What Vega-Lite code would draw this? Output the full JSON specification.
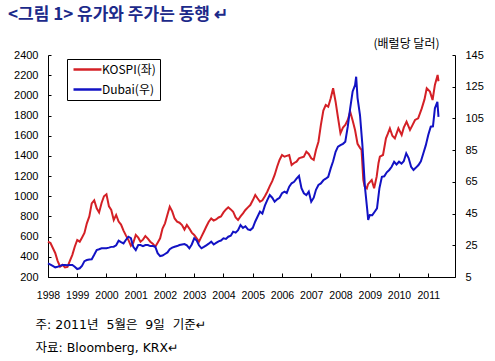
{
  "$schema": "https://vega.github.io/schema/vega-lite/v6.json",
  "autosize": "none",
  "width": 407,
  "height": 222,
  "padding": {"left": 48, "top": 55, "right": 40, "bottom": 84},
  "background": "white",
  "title": {
    "text": "<그림 1> 유가와 주가는 동행 ↵",
    "anchor": "start",
    "frame": "group",
    "dx": -40,
    "offset": 13,
    "font": "Noto Sans CJK KR",
    "fontSize": 17,
    "fontWeight": "bold",
    "color": "#1c2a8a"
  },
  "datasets": {
    "kospi": [
      {"date": "1998-01-01", "v": 550}, {"date": "1998-02-01", "v": 537}, {"date": "1998-03-01", "v": 490}, {"date": "1998-04-01", "v": 438},
      {"date": "1998-05-01", "v": 360}, {"date": "1998-06-01", "v": 302}, {"date": "1998-07-01", "v": 320}, {"date": "1998-08-01", "v": 295},
      {"date": "1998-09-01", "v": 300}, {"date": "1998-10-01", "v": 360}, {"date": "1998-11-01", "v": 420}, {"date": "1998-12-01", "v": 500},
      {"date": "1999-01-01", "v": 567}, {"date": "1999-02-01", "v": 550}, {"date": "1999-03-01", "v": 590}, {"date": "1999-04-01", "v": 636},
      {"date": "1999-05-01", "v": 732}, {"date": "1999-06-01", "v": 800}, {"date": "1999-07-01", "v": 930}, {"date": "1999-08-01", "v": 960},
      {"date": "1999-09-01", "v": 880}, {"date": "1999-10-01", "v": 840}, {"date": "1999-11-01", "v": 933}, {"date": "1999-12-01", "v": 1000},
      {"date": "2000-01-01", "v": 1020}, {"date": "2000-02-01", "v": 900}, {"date": "2000-03-01", "v": 864}, {"date": "2000-04-01", "v": 765},
      {"date": "2000-05-01", "v": 815}, {"date": "2000-06-01", "v": 750}, {"date": "2000-07-01", "v": 720}, {"date": "2000-08-01", "v": 660},
      {"date": "2000-09-01", "v": 610}, {"date": "2000-10-01", "v": 567}, {"date": "2000-11-01", "v": 510}, {"date": "2000-12-01", "v": 540},
      {"date": "2001-01-01", "v": 616}, {"date": "2001-02-01", "v": 590}, {"date": "2001-03-01", "v": 550}, {"date": "2001-04-01", "v": 570},
      {"date": "2001-05-01", "v": 606}, {"date": "2001-06-01", "v": 580}, {"date": "2001-07-01", "v": 550}, {"date": "2001-08-01", "v": 530},
      {"date": "2001-09-01", "v": 500}, {"date": "2001-10-01", "v": 540}, {"date": "2001-11-01", "v": 583}, {"date": "2001-12-01", "v": 680},
      {"date": "2002-01-01", "v": 732}, {"date": "2002-02-01", "v": 820}, {"date": "2002-03-01", "v": 897}, {"date": "2002-04-01", "v": 850},
      {"date": "2002-05-01", "v": 780}, {"date": "2002-06-01", "v": 748}, {"date": "2002-07-01", "v": 738}, {"date": "2002-08-01", "v": 715},
      {"date": "2002-09-01", "v": 670}, {"date": "2002-10-01", "v": 715}, {"date": "2002-11-01", "v": 680}, {"date": "2002-12-01", "v": 640},
      {"date": "2003-01-01", "v": 616}, {"date": "2003-02-01", "v": 583}, {"date": "2003-03-01", "v": 550}, {"date": "2003-04-01", "v": 600},
      {"date": "2003-05-01", "v": 649}, {"date": "2003-06-01", "v": 700}, {"date": "2003-07-01", "v": 748}, {"date": "2003-08-01", "v": 781},
      {"date": "2003-09-01", "v": 760}, {"date": "2003-10-01", "v": 770}, {"date": "2003-11-01", "v": 790}, {"date": "2003-12-01", "v": 800},
      {"date": "2004-01-01", "v": 840}, {"date": "2004-02-01", "v": 870}, {"date": "2004-03-01", "v": 891}, {"date": "2004-04-01", "v": 870},
      {"date": "2004-05-01", "v": 847}, {"date": "2004-06-01", "v": 790}, {"date": "2004-07-01", "v": 765}, {"date": "2004-08-01", "v": 800},
      {"date": "2004-09-01", "v": 830}, {"date": "2004-10-01", "v": 864}, {"date": "2004-11-01", "v": 890}, {"date": "2004-12-01", "v": 913},
      {"date": "2005-01-01", "v": 960}, {"date": "2005-02-01", "v": 1013}, {"date": "2005-03-01", "v": 980}, {"date": "2005-04-01", "v": 946},
      {"date": "2005-05-01", "v": 960}, {"date": "2005-06-01", "v": 1000}, {"date": "2005-07-01", "v": 1045}, {"date": "2005-08-01", "v": 1100},
      {"date": "2005-09-01", "v": 1150}, {"date": "2005-10-01", "v": 1211}, {"date": "2005-11-01", "v": 1293}, {"date": "2005-12-01", "v": 1360},
      {"date": "2006-01-01", "v": 1409}, {"date": "2006-02-01", "v": 1392}, {"date": "2006-03-01", "v": 1400}, {"date": "2006-04-01", "v": 1409},
      {"date": "2006-05-01", "v": 1310}, {"date": "2006-06-01", "v": 1330}, {"date": "2006-07-01", "v": 1343}, {"date": "2006-08-01", "v": 1376},
      {"date": "2006-09-01", "v": 1385}, {"date": "2006-10-01", "v": 1392}, {"date": "2006-11-01", "v": 1442}, {"date": "2006-12-01", "v": 1420},
      {"date": "2007-01-01", "v": 1376}, {"date": "2007-02-01", "v": 1360}, {"date": "2007-03-01", "v": 1459}, {"date": "2007-04-01", "v": 1541},
      {"date": "2007-05-01", "v": 1706}, {"date": "2007-06-01", "v": 1850}, {"date": "2007-07-01", "v": 1904}, {"date": "2007-08-01", "v": 1888},
      {"date": "2007-09-01", "v": 1971}, {"date": "2007-10-01", "v": 2070}, {"date": "2007-11-01", "v": 1937}, {"date": "2007-12-01", "v": 1780},
      {"date": "2008-01-01", "v": 1624}, {"date": "2008-02-01", "v": 1680}, {"date": "2008-03-01", "v": 1706}, {"date": "2008-04-01", "v": 1756},
      {"date": "2008-05-01", "v": 1838}, {"date": "2008-06-01", "v": 1750}, {"date": "2008-07-01", "v": 1657}, {"date": "2008-08-01", "v": 1520},
      {"date": "2008-09-01", "v": 1480}, {"date": "2008-09-20", "v": 1459}, {"date": "2008-10-12", "v": 1162}, {"date": "2008-10-28", "v": 1100},
      {"date": "2008-11-25", "v": 1079}, {"date": "2008-12-10", "v": 1120},
      {"date": "2009-01-25", "v": 1162}, {"date": "2009-02-24", "v": 1079}, {"date": "2009-03-28", "v": 1194}, {"date": "2009-04-20", "v": 1330},
      {"date": "2009-05-07", "v": 1392}, {"date": "2009-06-15", "v": 1409}, {"date": "2009-07-22", "v": 1574}, {"date": "2009-08-15", "v": 1620},
      {"date": "2009-09-09", "v": 1673}, {"date": "2009-10-10", "v": 1600}, {"date": "2009-11-10", "v": 1574}, {"date": "2009-12-24", "v": 1673},
      {"date": "2010-02-03", "v": 1607}, {"date": "2010-03-01", "v": 1680}, {"date": "2010-04-05", "v": 1739}, {"date": "2010-05-18", "v": 1657},
      {"date": "2010-06-15", "v": 1700}, {"date": "2010-07-20", "v": 1756}, {"date": "2010-08-28", "v": 1773}, {"date": "2010-10-12", "v": 1871},
      {"date": "2010-11-15", "v": 1960}, {"date": "2010-12-13", "v": 2070},
      {"date": "2011-01-22", "v": 2037}, {"date": "2011-02-24", "v": 1954}, {"date": "2011-03-25", "v": 2103}, {"date": "2011-04-28", "v": 2202},
      {"date": "2011-05-09", "v": 2140}
    ],
    "dubai": [
      {"date": "1998-01-01", "v": 13.6}, {"date": "1998-02-01", "v": 12.8}, {"date": "1998-03-01", "v": 12.0}, {"date": "1998-04-01", "v": 11.1},
      {"date": "1998-05-01", "v": 11.5}, {"date": "1998-06-01", "v": 12.0}, {"date": "1998-07-01", "v": 12.6}, {"date": "1998-08-01", "v": 12.6},
      {"date": "1998-09-01", "v": 12.4}, {"date": "1998-10-01", "v": 12.6}, {"date": "1998-11-01", "v": 12.6}, {"date": "1998-12-01", "v": 11.5},
      {"date": "1999-01-01", "v": 10.0}, {"date": "1999-02-01", "v": 10.5}, {"date": "1999-03-01", "v": 12.0}, {"date": "1999-04-01", "v": 15.0},
      {"date": "1999-05-01", "v": 15.7}, {"date": "1999-06-01", "v": 16.0}, {"date": "1999-07-01", "v": 16.2}, {"date": "1999-08-01", "v": 19.0},
      {"date": "1999-09-01", "v": 22.0}, {"date": "1999-10-01", "v": 22.5}, {"date": "1999-11-01", "v": 23.1}, {"date": "1999-12-01", "v": 23.1},
      {"date": "2000-01-01", "v": 23.1}, {"date": "2000-02-01", "v": 23.5}, {"date": "2000-03-01", "v": 24.0}, {"date": "2000-04-01", "v": 24.1},
      {"date": "2000-05-01", "v": 25.0}, {"date": "2000-06-01", "v": 27.9}, {"date": "2000-07-01", "v": 27.0}, {"date": "2000-08-01", "v": 26.2},
      {"date": "2000-09-01", "v": 28.5}, {"date": "2000-10-01", "v": 30.4}, {"date": "2000-11-01", "v": 29.5}, {"date": "2000-12-01", "v": 24.0},
      {"date": "2001-01-01", "v": 22.0}, {"date": "2001-02-01", "v": 25.2}, {"date": "2001-03-01", "v": 25.2}, {"date": "2001-04-01", "v": 24.5},
      {"date": "2001-05-01", "v": 25.2}, {"date": "2001-06-01", "v": 25.2}, {"date": "2001-07-01", "v": 24.5}, {"date": "2001-08-01", "v": 24.5},
      {"date": "2001-09-01", "v": 24.1}, {"date": "2001-10-01", "v": 20.0}, {"date": "2001-11-01", "v": 18.2}, {"date": "2001-12-01", "v": 18.5},
      {"date": "2002-01-01", "v": 19.5}, {"date": "2002-02-01", "v": 20.5}, {"date": "2002-03-01", "v": 22.5}, {"date": "2002-04-01", "v": 23.5},
      {"date": "2002-05-01", "v": 24.1}, {"date": "2002-06-01", "v": 24.5}, {"date": "2002-07-01", "v": 25.2}, {"date": "2002-08-01", "v": 25.5},
      {"date": "2002-09-01", "v": 25.8}, {"date": "2002-10-01", "v": 25.0}, {"date": "2002-11-01", "v": 23.1}, {"date": "2002-12-01", "v": 25.5},
      {"date": "2003-01-01", "v": 29.4}, {"date": "2003-02-01", "v": 28.0}, {"date": "2003-03-01", "v": 25.0}, {"date": "2003-04-01", "v": 23.1},
      {"date": "2003-05-01", "v": 24.0}, {"date": "2003-06-01", "v": 25.0}, {"date": "2003-07-01", "v": 26.0}, {"date": "2003-08-01", "v": 27.3},
      {"date": "2003-09-01", "v": 25.5}, {"date": "2003-10-01", "v": 26.5}, {"date": "2003-11-01", "v": 27.5}, {"date": "2003-12-01", "v": 28.0},
      {"date": "2004-01-01", "v": 29.4}, {"date": "2004-02-01", "v": 29.0}, {"date": "2004-03-01", "v": 30.4}, {"date": "2004-04-01", "v": 31.0},
      {"date": "2004-05-01", "v": 33.6}, {"date": "2004-06-01", "v": 33.0}, {"date": "2004-07-01", "v": 34.5}, {"date": "2004-08-01", "v": 37.8},
      {"date": "2004-09-01", "v": 36.0}, {"date": "2004-10-01", "v": 37.0}, {"date": "2004-11-01", "v": 35.0}, {"date": "2004-12-01", "v": 34.6},
      {"date": "2005-01-01", "v": 36.0}, {"date": "2005-02-01", "v": 40.0}, {"date": "2005-03-01", "v": 43.0}, {"date": "2005-04-01", "v": 46.2},
      {"date": "2005-05-01", "v": 45.0}, {"date": "2005-06-01", "v": 50.0}, {"date": "2005-07-01", "v": 53.5}, {"date": "2005-08-01", "v": 56.7},
      {"date": "2005-09-01", "v": 55.0}, {"date": "2005-10-01", "v": 52.5}, {"date": "2005-11-01", "v": 54.0}, {"date": "2005-12-01", "v": 55.0},
      {"date": "2006-01-01", "v": 57.8}, {"date": "2006-02-01", "v": 58.8}, {"date": "2006-03-01", "v": 58.0}, {"date": "2006-04-01", "v": 62.0},
      {"date": "2006-05-01", "v": 64.1}, {"date": "2006-06-01", "v": 65.0}, {"date": "2006-07-01", "v": 67.0}, {"date": "2006-08-01", "v": 68.7},
      {"date": "2006-09-01", "v": 61.0}, {"date": "2006-10-01", "v": 57.8}, {"date": "2006-11-01", "v": 56.7}, {"date": "2006-12-01", "v": 58.8},
      {"date": "2007-01-01", "v": 52.5}, {"date": "2007-02-01", "v": 55.0}, {"date": "2007-03-01", "v": 60.0}, {"date": "2007-04-01", "v": 63.0},
      {"date": "2007-05-01", "v": 64.0}, {"date": "2007-06-01", "v": 66.0}, {"date": "2007-07-01", "v": 67.0}, {"date": "2007-08-01", "v": 68.2},
      {"date": "2007-09-01", "v": 73.5}, {"date": "2007-10-01", "v": 78.0}, {"date": "2007-11-01", "v": 84.0}, {"date": "2007-12-01", "v": 87.2},
      {"date": "2008-01-01", "v": 88.2}, {"date": "2008-02-01", "v": 89.0}, {"date": "2008-03-01", "v": 90.3}, {"date": "2008-04-01", "v": 99.8},
      {"date": "2008-05-01", "v": 111.4}, {"date": "2008-06-01", "v": 122.0}, {"date": "2008-07-01", "v": 126.0}, {"date": "2008-07-15", "v": 131.3},
      {"date": "2008-08-01", "v": 118.0}, {"date": "2008-09-01", "v": 107.0}, {"date": "2008-10-01", "v": 88.0}, {"date": "2008-11-01", "v": 62.0},
      {"date": "2008-12-01", "v": 47.0}, {"date": "2008-12-12", "v": 41.0},
      {"date": "2009-01-01", "v": 44.1}, {"date": "2009-02-01", "v": 44.0}, {"date": "2009-03-01", "v": 46.0}, {"date": "2009-04-01", "v": 48.3},
      {"date": "2009-05-01", "v": 60.9}, {"date": "2009-06-01", "v": 68.2}, {"date": "2009-07-01", "v": 68.5}, {"date": "2009-08-01", "v": 71.0},
      {"date": "2009-09-01", "v": 72.5}, {"date": "2009-10-01", "v": 74.5}, {"date": "2009-11-01", "v": 77.7}, {"date": "2009-12-01", "v": 76.0},
      {"date": "2010-01-01", "v": 77.7}, {"date": "2010-02-01", "v": 76.5}, {"date": "2010-03-01", "v": 78.0}, {"date": "2010-04-01", "v": 83.0},
      {"date": "2010-05-01", "v": 80.0}, {"date": "2010-06-01", "v": 74.5}, {"date": "2010-07-01", "v": 72.5}, {"date": "2010-08-01", "v": 74.0},
      {"date": "2010-09-01", "v": 75.6}, {"date": "2010-10-01", "v": 78.0}, {"date": "2010-11-01", "v": 83.0}, {"date": "2010-12-01", "v": 88.0},
      {"date": "2011-01-01", "v": 94.5}, {"date": "2011-02-01", "v": 99.8}, {"date": "2011-03-01", "v": 100.0}, {"date": "2011-03-25", "v": 111.4},
      {"date": "2011-04-25", "v": 115.5}, {"date": "2011-05-09", "v": 106.0}
    ]
  },
  "encoding": {
    "x": {
      "field": "date", "type": "temporal",
      "scale": {"type": "utc", "domain": [{"year": 1998, "month": 1, "date": 1, "utc": true}, {"year": 2011, "month": 12, "date": 1, "utc": true}]},
      "axis": {
        "values": [
          {"year": 1998, "month": 1, "date": 1, "utc": true}, {"year": 1999, "month": 1, "date": 1, "utc": true},
          {"year": 2000, "month": 1, "date": 1, "utc": true}, {"year": 2001, "month": 1, "date": 1, "utc": true},
          {"year": 2002, "month": 1, "date": 1, "utc": true}, {"year": 2003, "month": 1, "date": 1, "utc": true},
          {"year": 2004, "month": 1, "date": 1, "utc": true}, {"year": 2005, "month": 1, "date": 1, "utc": true},
          {"year": 2006, "month": 1, "date": 1, "utc": true}, {"year": 2007, "month": 1, "date": 1, "utc": true},
          {"year": 2008, "month": 1, "date": 1, "utc": true}, {"year": 2009, "month": 1, "date": 1, "utc": true},
          {"year": 2010, "month": 1, "date": 1, "utc": true}, {"year": 2011, "month": 1, "date": 1, "utc": true}
        ],
        "format": "%Y",
        "grid": false,
        "tickSize": -4,
        "labelPadding": 17,
        "labelFont": "Liberation Sans",
        "labelFontSize": 10.5,
        "labelColor": "black",
        "labelFlush": false,
        "labelOverlap": false,
        "labelSeparation": 0,
        "labelBound": false,
        "domainColor": "black",
        "tickColor": "black",
        "title": ["주: 2011년 \u00a05월은 \u00a09일 \u00a0기준↵", "자료: Bloomberg, KRX↵"],
        "titleX": -13,
        "titleY": 41,
        "titleAlign": "left",
        "titleBaseline": "top",
        "titleFont": "DejaVu Sans, Noto Sans CJK KR",
        "titleFontSize": 12.5,
        "titleFontWeight": "normal",
        "titleColor": "black",
        "titleLineHeight": 23
      }
    }
  },
  "layer": [
    {
      "data": {"name": "kospi"},
      "mark": {"type": "line", "strokeWidth": 2},
      "encoding": {
        "y": {
          "field": "v", "type": "quantitative",
          "scale": {"domain": [200, 2400], "nice": false, "zero": false},
          "axis": {
            "values": [200, 400, 600, 800, 1000, 1200, 1400, 1600, 1800, 2000, 2200, 2400],
            "format": "d",
            "grid": false,
            "tickSize": -3,
            "labelPadding": 13,
            "labelFont": "Liberation Sans",
            "labelFontSize": 11,
            "labelColor": "black",
            "labelFlush": false,
            "labelOverlap": false,
            "domainColor": "black",
            "tickColor": "black",
            "title": null
          }
        },
        "color": {
          "datum": "KOSPI(좌)", "type": "nominal",
          "scale": {"domain": ["KOSPI(좌)", "Dubai(우)"], "range": ["#d42026", "#1212c4"]},
          "legend": {
            "title": null,
            "orient": "none",
            "legendX": 19,
            "legendY": 4,
            "strokeColor": "black",
            "fillColor": "white",
            "padding": 4,
            "symbolType": "M-2.8,0L2.8,0",
            "symbolSize": 100,
            "symbolOffset": 10,
            "symbolStrokeWidth": 2.5,
            "labelFont": "Noto Sans CJK KR",
            "labelFontSize": 12,
            "labelColor": "black",
            "labelOffset": 8,
            "rowPadding": 7
          }
        }
      }
    },
    {
      "data": {"name": "dubai"},
      "mark": {"type": "line", "strokeWidth": 2},
      "encoding": {
        "y": {
          "field": "v", "type": "quantitative",
          "scale": {"domain": [5, 145], "nice": false, "zero": false},
          "axis": {
            "orient": "right",
            "values": [5, 25, 45, 65, 85, 105, 125, 145],
            "format": "d",
            "grid": false,
            "tickSize": -3,
            "labelPadding": 13,
            "labelFont": "Liberation Sans",
            "labelFontSize": 11,
            "labelColor": "black",
            "labelFlush": false,
            "labelOverlap": false,
            "domainColor": "black",
            "tickColor": "black",
            "title": "(배럴당 달러)",
            "titleAngle": 0,
            "titleX": -82,
            "titleY": -12,
            "titleAlign": "left",
            "titleBaseline": "middle",
            "titleFont": "Noto Sans CJK KR",
            "titleFontSize": 12,
            "titleFontWeight": "normal",
            "titleColor": "black"
          }
        },
        "color": {"datum": "Dubai(우)", "type": "nominal"}
      }
    }
  ],
  "resolve": {"scale": {"y": "independent"}, "axis": {"y": "independent"}},
  "config": {
    "view": {"stroke": null},
    "axis": {"domainWidth": 1, "tickWidth": 1},
    "axisX": {"labelOverlap": false}
  }
}
